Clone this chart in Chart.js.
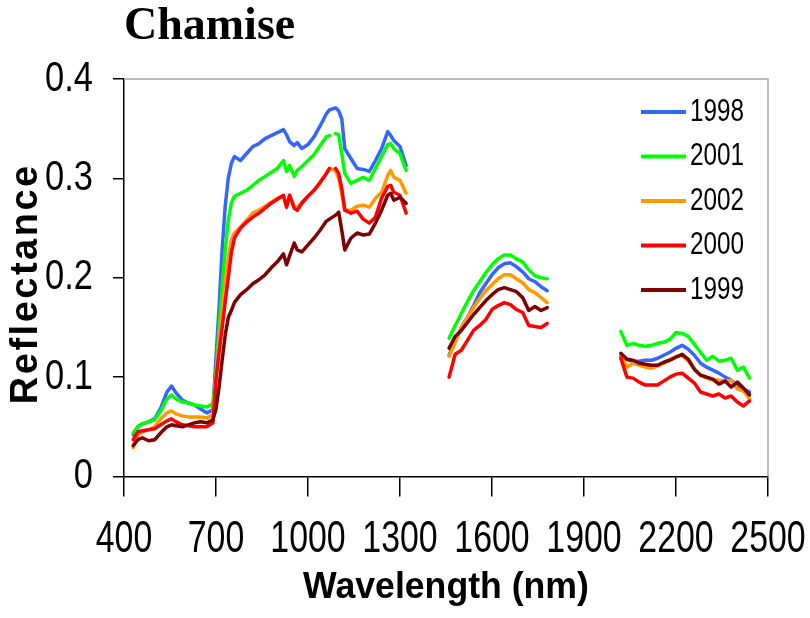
<!DOCTYPE html>
<html>
<head>
<meta charset="utf-8">
<script src="https://cdn.jsdelivr.net/npm/chart.js@4/dist/chart.umd.min.js"></script>
<style>
  html, body { margin: 0; padding: 0; background: #fff; }
  #wrap { width: 810px; height: 618px; }
</style>
</head>
<body>
<div id="wrap"><canvas id="c" width="810" height="618"></canvas></div>
<script>
// Wavelengths (nm); null entries in the series mark gaps (water absorption bands)
const wavelengths = [
  430,445,460,480,500,520,540,555,570,590,610,630,650,670,690,700,710,720,730,740,
  750,760,780,800,820,840,860,880,900,920,930,940,955,965,980,1000,1020,1040,1060,1070,
  1080,1090,1100,1110,1120,1140,1160,1180,1200,1220,1240,1260,1270,1280,1300,1320,
  1390,
  1460,1480,1500,1520,1540,1560,1580,1600,1620,1640,1660,1680,1700,1720,1740,1760,1780,
  1900,
  2020,2040,2060,2080,2100,2120,2140,2160,2180,2200,2220,2240,2260,2280,2300,2320,2340,2360,2380,2400,2420,2440
];

const y1998 = [
  .042,.050,.053,.055,.058,.069,.085,.091,.084,.077,.074,.072,.068,.064,.067,.120,.170,.228,.272,.300,
  .315,.322,.318,.325,.332,.335,.340,.343,.346,.349,.344,.337,.333,.336,.330,.334,.342,.353,.365,.369,
  .370,.371,.368,.360,.330,.320,.310,.309,.307,.318,.330,.347,.343,.338,.332,.313,
  null,
  .122,.137,.150,.160,.172,.185,.194,.203,.210,.214,.215,.211,.206,.199,.196,.191,.187,
  null,
  .121,.118,.116,.116,.117,.117,.119,.122,.125,.129,.132,.128,.122,.114,.110,.107,.104,.100,.097,.091,.088,.085
];
const y2001 = [
  .044,.050,.053,.055,.057,.066,.078,.082,.078,.075,.074,.072,.071,.070,.073,.105,.150,.190,.228,.258,
  .275,.282,.285,.288,.293,.298,.302,.306,.310,.318,.307,.313,.302,.308,.312,.318,.324,.333,.342,.343,
  null,.345,.344,.325,.305,.295,.298,.301,.298,.310,.322,.334,.335,.330,.325,.308,
  null,
  .139,.152,.164,.176,.187,.196,.205,.213,.219,.223,.223,.219,.216,.208,.202,.200,.199,
  null,
  .146,.132,.134,.132,.131,.132,.134,.135,.138,.145,.144,.141,.133,.125,.117,.121,.116,.117,.119,.107,.110,.099
];
const y2002 = [
  .029,.042,.045,.047,.050,.058,.064,.066,.063,.061,.060,.060,.060,.059,.062,.100,.135,.165,.195,.220,
  .238,.245,.251,.258,.265,.268,.272,.276,.280,.282,.272,.283,.272,.270,.276,.282,.288,.296,.305,.310,
  .309,.308,.300,.285,.268,.268,.272,.273,.271,.280,.286,.303,.308,.301,.298,.285,
  null,
  .121,.135,.150,.160,.170,.179,.187,.193,.199,.203,.203,.199,.195,.188,.185,.180,.175,
  null,
  .122,.110,.114,.112,.110,.109,.111,.114,.118,.121,.122,.116,.108,.102,.099,.097,.097,.096,.097,.088,.086,.078
];
const y2000 = [
  .037,.045,.046,.047,.048,.052,.056,.058,.055,.052,.051,.050,.050,.050,.054,.098,.125,.150,.176,.200,
  .225,.240,.250,.256,.261,.265,.270,.275,.279,.283,.271,.283,.270,.268,.275,.282,.288,.296,.305,.310,
  null,.310,.305,.290,.268,.265,.267,.259,.255,.261,.280,.292,.293,.286,.283,.265,
  null,
  .100,.123,.127,.137,.147,.152,.158,.168,.172,.175,.173,.168,.165,.152,.151,.150,.154,
  null,
  .119,.100,.099,.095,.092,.092,.092,.096,.100,.103,.104,.099,.094,.085,.083,.081,.083,.079,.081,.075,.071,.076
];
const y1999 = [
  .031,.037,.039,.036,.037,.044,.050,.052,.051,.050,.052,.054,.055,.054,.057,.068,.090,.117,.142,.160,
  .167,.175,.183,.188,.194,.198,.203,.210,.216,.224,.213,.222,.235,.228,.226,.233,.240,.248,.257,.259,
  .261,.263,.266,.248,.228,.240,.245,.243,.244,.255,.268,.283,.285,.278,.281,.275,
  null,
  .129,.141,.147,.155,.163,.170,.177,.183,.188,.190,.188,.186,.180,.167,.171,.167,.170,
  null,
  .124,.118,.117,.114,.113,.112,.112,.115,.117,.120,.123,.118,.108,.102,.100,.098,.093,.096,.090,.095,.089,.082
];

const seriesNames = ['1998', '2001', '2002', '2000', '1999'];
const seriesValues = [y1998, y2001, y2002, y2000, y1999];
const seriesColors = ['#3366FF', '#00FF00', '#FF9900', '#FF0000', '#800000'];
const xTickValues = [400, 700, 1000, 1300, 1600, 1900, 2200, 2500];
const yTickValues = [0, 0.1, 0.2, 0.3, 0.4];

// Font stacks. The extra (non-installed) names after the real family are markers
// read by the text hook below: sqNN = horizontal squeeze NN%, dxmNN = shift back along text, lsNN = letter spacing/10 px.
const F_XTICK = "'Liberation Sans', 'sq77'";
const F_YTICK = "'Liberation Sans', 'sq82'";
const F_LEG   = "'Liberation Sans', 'sq76', 'dxm12'";
const F_XTTL  = "'Liberation Sans', 'sq99'";
const F_YTTL  = "'Liberation Sans', 'ls25', 'dxm6'";

const canvas = document.getElementById('c');
const ctx0 = canvas.getContext('2d');
const origFill = ctx0.fillText;
ctx0.fillText = function (text, x, y, maxWidth) {
  const f = this.font || '';
  const sq = /sq(\d+)/.exec(f), dx = /dxm(\d+)/.exec(f), ls = /ls(\d+)/.exec(f);
  if (!sq && !dx && !ls) return origFill.call(this, text, x, y, maxWidth);
  this.save();
  if (ls && 'letterSpacing' in this) this.letterSpacing = (Number(ls[1]) / 10) + 'px';
  this.translate(x - (dx ? Number(dx[1]) : 0), y);
  if (sq) this.scale(Number(sq[1]) / 100, 1);
  origFill.call(this, text, 0, 0);
  this.restore();
};

const datasets = seriesNames.map((name, k) => ({
  label: name,
  data: wavelengths.map((w, i) => ({ x: w, y: seriesValues[k][i] })),
  borderColor: seriesColors[k],
  backgroundColor: seriesColors[k],
  borderWidth: 3.5,
  borderCapStyle: 'round',
  borderJoinStyle: 'round',
  pointRadius: 0,
  pointHoverRadius: 0,
  tension: 0,
  spanGaps: false,
  order: seriesNames.length - k
}));

const frame = {
  id: 'frame',
  afterLayout(chart) {
    const lg = chart.legend, ca = chart.chartArea;
    if (!lg) return;
    const w = lg.width;
    lg.left = ca.right - 139.5;
    lg.right = lg.left + w;
    lg.top = ca.top + 4.5;
    lg.bottom = lg.top + 300;
  },
  beforeDatasetsDraw(chart) {
    const { ctx, chartArea: ca } = chart;
    ctx.save();
    ctx.strokeStyle = '#a6a6a6';
    ctx.lineWidth = 1.5;
    ctx.beginPath();
    ctx.moveTo(ca.left, ca.top);
    ctx.lineTo(ca.right, ca.top);
    ctx.lineTo(ca.right, ca.bottom);
    ctx.stroke();
    ctx.restore();
  }
};

new Chart(canvas, {
  type: 'line',
  data: { datasets },
  plugins: [frame],
  options: {
    responsive: false,
    animation: false,
    events: [],
    layout: { padding: { left: 0, right: 42, top: 0, bottom: 0 } },
    plugins: {
      title: {
        display: true,
        text: 'Chamise',
        align: 'start',
        fullSize: false,
        color: '#000',
        font: { family: "'Liberation Serif', 'Times New Roman', serif", weight: 'bold', size: 46 },
        padding: { top: 0, bottom: 23.8 }
      },
      legend: {
        display: true,
        position: 'chartArea',
        align: 'start',
        labels: {
          color: '#000',
          font: { family: F_LEG, size: 32 },
          boxWidth: 45,
          boxHeight: 4,
          padding: 12.5,
          sort: (a, b) => a.datasetIndex - b.datasetIndex,
          generateLabels(chart) {
            return Chart.defaults.plugins.legend.labels.generateLabels(chart)
              .map(l => Object.assign(l, { lineWidth: 0 }));
          }
        }
      },
      tooltip: { enabled: false }
    },
    scales: {
      x: {
        type: 'linear',
        min: 400,
        max: 2500,
        afterFit(s) { s.height = 141.5; s.paddingLeft = 0; s.paddingRight = 0; },
        afterBuildTicks(s) { s.ticks = xTickValues.map(v => ({ value: v })); },
        ticks: {
          color: '#000',
          font: { family: F_XTICK, size: 44 },
          padding: 17,
          maxRotation: 0,
          autoSkip: false,
          callback: v => String(v)
        },
        grid: { drawOnChartArea: false, drawTicks: true, tickLength: 20, color: '#000', lineWidth: 1.5 },
        border: { display: true, color: '#000', width: 1.5 },
        title: {
          display: true,
          text: 'Wavelength (nm)',
          color: '#000',
          font: { family: F_XTTL, weight: 'bold', size: 36 },
          padding: { top: 0, bottom: 8 }
        }
      },
      y: {
        min: 0,
        max: 0.4,
        afterFit(s) { s.width = 124; s.paddingTop = 0; s.paddingBottom = 0; },
        afterBuildTicks(s) { s.ticks = yTickValues.map(v => ({ value: v })); },
        ticks: {
          color: '#000',
          font: { family: F_YTICK, size: 42 },
          padding: 20,
          callback: v => String(v)
        },
        grid: { drawOnChartArea: false, drawTicks: true, tickLength: 11, color: '#000', lineWidth: 1.5 },
        border: { display: true, color: '#000', width: 1.5 },
        title: {
          display: true,
          text: 'Reflectance',
          color: '#000',
          font: { family: F_YTTL, weight: 'bold', size: 38 },
          padding: { top: 4, bottom: 0 }
        }
      }
    }
  }
});
</script>
</body>
</html>
